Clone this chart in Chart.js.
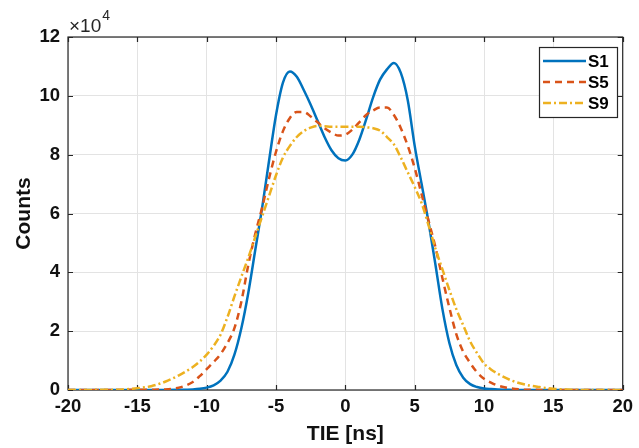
<!DOCTYPE html>
<html>
<head>
<meta charset="utf-8">
<script src="https://cdn.jsdelivr.net/npm/chart.js@4/dist/chart.umd.min.js"></script>
<style>
  html, body { margin: 0; padding: 0; background: #fff; }
  #wrap { width: 639px; height: 448px; position: relative; }
</style>
</head>
<body>
<div id="wrap"><canvas id="tie"></canvas></div>
<script>
// TIE histogram, counts in units of 1e4 (the axis carries the x10^4 factor)
const tieNs = [-20, -18, -16, -15, -14, -13, -12, -11,
  -10.5, -10, -9.5, -9, -8.5, -8, -7.5, -7, -6.5, -6, -5.5, -5, -4.5, -4, -3.5, -3, -2.5, -2, -1.5, -1, -0.5,
  0, 0.5, 1, 1.5, 2, 2.5, 3, 3.5, 4, 4.5, 5, 5.5, 6, 6.5, 7, 7.5, 8, 8.5, 9, 9.5, 10, 10.5,
  11, 12, 13, 14, 15, 16, 18, 20];

const s1 = [0, 0, 0, 0, 0, 0, 0.005, 0.02,
  0.04, 0.08, 0.16, 0.32, 0.62, 1.2, 2.1, 3.3, 4.75, 6.2, 7.8, 9.35, 10.45, 10.83, 10.65, 10.2, 9.7, 9.15, 8.6, 8.15, 7.88,
  7.8, 8.0, 8.5, 9.2, 9.95, 10.55, 10.9, 11.12, 10.78, 9.85, 8.3, 7.0, 5.7, 4.25, 2.75, 1.6, 0.85, 0.42, 0.2, 0.1, 0.05, 0.03,
  0.015, 0.004, 0, 0, 0, 0, 0, 0];

const s5 = [0, 0, 0.004, 0.008, 0.012, 0.02, 0.08, 0.27,
  0.47, 0.71, 0.95, 1.22, 1.6, 2.1, 3.0, 4.25, 5.3, 6.2, 7.2, 8.1, 8.8, 9.25, 9.45, 9.45, 9.3, 9.1, 8.9, 8.75, 8.65,
  8.68, 8.85, 9.1, 9.35, 9.5, 9.6, 9.6, 9.35, 8.9, 8.3, 7.55, 6.65, 5.75, 4.85, 3.8, 2.8, 1.9, 1.3, 0.92, 0.6, 0.38, 0.25,
  0.15, 0.05, 0.01, 0.004, 0, 0, 0, 0];

const s9 = [0, 0.005, 0.02, 0.06, 0.13, 0.28, 0.5, 0.78,
  0.97, 1.2, 1.5, 1.88, 2.48, 3.18, 3.85, 4.5, 5.2, 5.9, 6.6, 7.3, 7.9, 8.3, 8.6, 8.8, 8.92, 8.98, 8.97, 8.95, 8.95,
  8.95, 8.95, 8.95, 8.93, 8.9, 8.82, 8.6, 8.35, 7.9, 7.4, 6.9, 6.35, 5.6, 4.8, 4.1, 3.4, 2.75, 2.2, 1.65, 1.25, 0.9, 0.7,
  0.55, 0.32, 0.18, 0.1, 0.04, 0.015, 0, 0];

const seriesNames = ['S1', 'S5', 'S9'];
const seriesColors = ['#0072BD', '#D95319', '#EDB120'];
const seriesDash = [[], [7, 5], [8, 3, 2, 3]];
const xTicks = [-20, -15, -10, -5, 0, 5, 10, 15, 20];
const yTicks = [0, 2, 4, 6, 8, 10, 12];

const AXIS = '#262626';
const FONT = '"Liberation Sans", Arial, Helvetica, sans-serif';

function pts(ys) {
  return tieNs.map((x, i) => ({ x, y: ys[i] }));
}

const values = [s1, s5, s9];
const datasets = values.map((ys, i) => ({
  label: seriesNames[i],
  data: pts(ys),
  borderColor: seriesColors[i],
  borderWidth: 2.5,
  borderDash: seriesDash[i],
  pointRadius: 0,
  fill: false,
  cubicInterpolationMode: 'monotone',
  order: 3 - i,
}));

// axes box with inward tick marks, MATLAB style
const boxPlugin = {
  id: 'box',
  beforeDatasetsDraw(chart) {
    const { ctx, chartArea: a, scales: { x, y } } = chart;
    ctx.save();
    ctx.strokeStyle = AXIS;
    ctx.lineWidth = 1.2;
    ctx.strokeRect(a.left, a.top, a.right - a.left, a.bottom - a.top);
    ctx.beginPath();
    const t = 5;
    xTicks.forEach((v) => {
      const px = Math.round(x.getPixelForValue(v)) + 0.5;
      ctx.moveTo(px, a.bottom); ctx.lineTo(px, a.bottom - t);
      ctx.moveTo(px, a.top); ctx.lineTo(px, a.top + t);
    });
    yTicks.forEach((v) => {
      const py = Math.round(y.getPixelForValue(v)) + 0.5;
      ctx.moveTo(a.left, py); ctx.lineTo(a.left + t, py);
      ctx.moveTo(a.right, py); ctx.lineTo(a.right - t, py);
    });
    ctx.stroke();
    ctx.restore();
  },
  afterDraw(chart) {
    const { ctx, chartArea: a } = chart;
    ctx.save();
    // exponent label
    ctx.fillStyle = AXIS;
    ctx.textBaseline = 'alphabetic';
    ctx.textAlign = 'left';
    ctx.font = '19px ' + FONT;
    ctx.fillText('\u00d710', a.left + 1, a.top - 5);
    const w = ctx.measureText('\u00d710').width;
    ctx.font = '14px ' + FONT;
    ctx.fillText('4', a.left + 2 + w, a.top - 17);

    // legend
    const bx = 539, by = 47, bw = 78, bh = 70;
    ctx.fillStyle = '#fff';
    ctx.fillRect(bx, by, bw, bh);
    ctx.strokeStyle = AXIS;
    ctx.lineWidth = 1.2;
    ctx.strokeRect(bx + 0.5, by + 0.5, bw, bh);
    chart.data.datasets.forEach((ds, i) => {
      const cy = by + 14 + i * 21;
      ctx.beginPath();
      ctx.setLineDash(ds.borderDash);
      ctx.strokeStyle = ds.borderColor;
      ctx.lineWidth = ds.borderWidth;
      ctx.moveTo(bx + 4, cy); ctx.lineTo(bx + 47, cy);
      ctx.stroke();
      ctx.setLineDash([]);
      ctx.fillStyle = '#000';
      ctx.font = 'bold 17px ' + FONT;
      ctx.textBaseline = 'middle';
      ctx.fillText(ds.label, bx + 49, cy + 1);
    });
    ctx.restore();
  },
};

new Chart(document.getElementById('tie'), {
  type: 'line',
  data: { datasets },
  options: {
    responsive: true,
    maintainAspectRatio: false,
    animation: false,
    events: [],
    layout: { padding: { top: 37, right: 12, left: 0, bottom: 0 } },
    plugins: { legend: { display: false }, tooltip: { enabled: false } },
    scales: {
      x: {
        type: 'linear',
        min: -20,
        max: 20,
        afterBuildTicks: (s) => { s.ticks = xTicks.map((v) => ({ value: v })); },
        afterFit: (s) => { s.height = 58; },
        grid: { color: '#e3e3e3', lineWidth: 1, drawTicks: false },
        border: { display: false },
        ticks: { color: '#111', padding: 6, maxRotation: 0, font: { family: FONT, size: 18.5, weight: 'bold' } },
        title: {
          display: true, text: 'TIE [ns]', color: '#111',
          padding: { top: 0, bottom: 1 },
          font: { family: FONT, size: 21, weight: 'bold' },
        },
      },
      y: {
        type: 'linear',
        min: 0,
        max: 12,
        afterBuildTicks: (s) => { s.ticks = yTicks.map((v) => ({ value: v })); },
        afterFit: (s) => { s.width = 68; },
        grid: { color: '#e3e3e3', lineWidth: 1, drawTicks: false },
        border: { display: false },
        ticks: { color: '#111', padding: 8, font: { family: FONT, size: 18.5, weight: 'bold' } },
        title: {
          display: true, text: 'Counts', color: '#111',
          padding: { top: 12, bottom: 0 },
          font: { family: FONT, size: 21, weight: 'bold' },
        },
      },
    },
  },
  plugins: [boxPlugin],
});
</script>
</body>
</html>
